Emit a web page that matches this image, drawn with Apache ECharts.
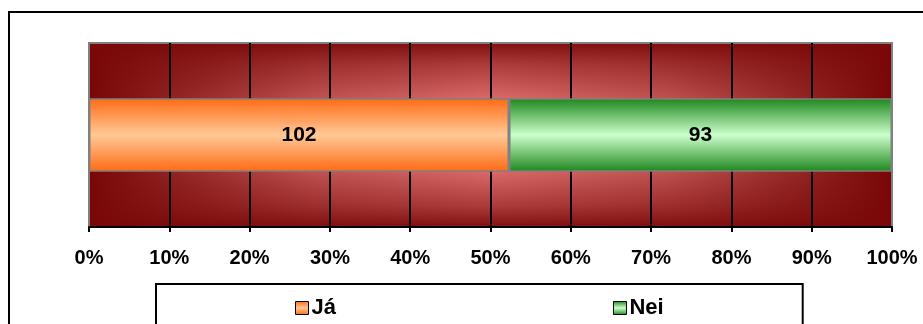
<!DOCTYPE html>
<html>
<head>
<meta charset="utf-8">
<script src="https://cdn.jsdelivr.net/npm/echarts@6/dist/echarts.min.js"></script>
<style>
  html, body { margin: 0; padding: 0; background: #fff; }
  #chart { width: 923px; height: 324px; }
</style>
</head>
<body>
<div id="chart"></div>
<script>
// ---- data ----
const categories = ['Svar'];
const legendNames = ['Já', 'Nei'];
const jaValues = [102];
const neiValues = [93];
const axisMin = 0;
const axisMax = 100;
const axisInterval = 10;

// 100% stacking
const totals = categories.map((_, i) => jaValues[i] + neiValues[i]);
const jaPct = jaValues.map((v, i) => v / totals[i] * 100);
const neiPct = neiValues.map((v, i) => v / totals[i] * 100);

const FONT = "'Liberation Sans', Arial, sans-serif";

function vGrad(edge, mid) {
  return new echarts.graphic.LinearGradient(0, 0, 0, 1, [
    { offset: 0, color: edge },
    { offset: 0.5, color: mid },
    { offset: 1, color: edge }
  ]);
}

const gridRect = { left: 89, top: 43, width: 803, height: 184 };

const chart = echarts.init(document.getElementById('chart'), null, { renderer: 'canvas' });
chart.setOption({
  animation: false,
  backgroundColor: '#ffffff',
  graphic: [{
    type: 'rect',
    silent: true,
    shape: { x: 9, y: 12, width: 1000, height: 400 },
    style: { fill: 'none', stroke: '#000', lineWidth: 2 }
  }],
  grid: [
    Object.assign({
      show: true,
      borderWidth: 0,
      backgroundColor: new echarts.graphic.LinearGradient(0, 0, 1, 0, [
        { offset: 0, color: '#780606' },
        { offset: 0.12, color: '#962828' },
        { offset: 0.28, color: '#c25454' },
        { offset: 0.5, color: '#de6e6e' },
        { offset: 0.72, color: '#c25454' },
        { offset: 0.88, color: '#962828' },
        { offset: 1, color: '#780606' }
      ])
    }, gridRect),
    Object.assign({
      show: true,
      borderColor: '#808080',
      borderWidth: 2,
      backgroundColor: new echarts.graphic.LinearGradient(0, 0, 0, 1, [
        { offset: 0, color: 'rgba(122,8,8,0.95)' },
        { offset: 0.12, color: 'rgba(122,8,8,0.5)' },
        { offset: 0.3, color: 'rgba(122,8,8,0.05)' },
        { offset: 0.5, color: 'rgba(122,8,8,0)' },
        { offset: 0.7, color: 'rgba(122,8,8,0.05)' },
        { offset: 0.88, color: 'rgba(122,8,8,0.5)' },
        { offset: 1, color: 'rgba(122,8,8,0.95)' }
      ])
    }, gridRect)
  ],
  legend: {
    data: legendNames,
    left: 156,
    top: 284,
    orient: 'horizontal',
    padding: [13, 139, 30, 139],
    itemGap: 277,
    itemWidth: 13,
    itemHeight: 13,
    borderColor: '#000',
    borderWidth: 2,
    icon: 'rect',
    itemStyle: { borderColor: '#000', borderWidth: 1 },
    textStyle: { fontFamily: FONT, fontWeight: 'bold', fontSize: 22, color: '#000', padding: [0, 0, 0, -2] }
  },
  xAxis: [
    {
      type: 'value',
      gridIndex: 0,
      min: axisMin,
      max: axisMax,
      interval: axisInterval,
      axisLine: { show: true, lineStyle: { color: '#000', width: 2 } },
      axisTick: { show: true, length: 5, lineStyle: { color: '#000', width: 2 } },
      axisLabel: {
        margin: 21,
        formatter: '{value}%',
        fontFamily: FONT, fontWeight: 'bold', fontSize: 20, color: '#000'
      },
      splitLine: { show: true, showMinLine: false, showMaxLine: false, lineStyle: { color: '#000', width: 2 } }
    },
    { type: 'value', gridIndex: 1, show: false, min: axisMin, max: axisMax, splitLine: { show: false } }
  ],
  yAxis: [
    {
      type: 'category',
      gridIndex: 0,
      data: categories,
      axisLine: { show: false },
      axisTick: { show: false },
      axisLabel: { show: false },
      splitLine: { show: false }
    },
    { type: 'category', gridIndex: 1, show: false, data: categories }
  ],
  series: [
    {
      name: legendNames[0],
      type: 'bar',
      stack: 'total',
      xAxisIndex: 0,
      yAxisIndex: 0,
      z: 5,
      barWidth: '40%',
      data: jaPct,
      itemStyle: { color: vGrad('#ff6a14', '#ffc896'), borderColor: '#808080', borderWidth: 1.5 },
      label: {
        show: true, position: 'inside',
        formatter: p => String(jaValues[p.dataIndex]),
        fontFamily: FONT, fontWeight: 'bold', fontSize: 21, color: '#000'
      }
    },
    {
      name: legendNames[1],
      type: 'bar',
      stack: 'total',
      xAxisIndex: 0,
      yAxisIndex: 0,
      z: 5,
      barWidth: '40%',
      data: neiPct,
      itemStyle: { color: vGrad('#1c861c', '#ccffcc'), borderColor: '#808080', borderWidth: 1.5 },
      label: {
        show: true, position: 'inside',
        formatter: p => String(neiValues[p.dataIndex]),
        fontFamily: FONT, fontWeight: 'bold', fontSize: 21, color: '#000'
      }
    }
  ]
});
</script>
</body>
</html>
